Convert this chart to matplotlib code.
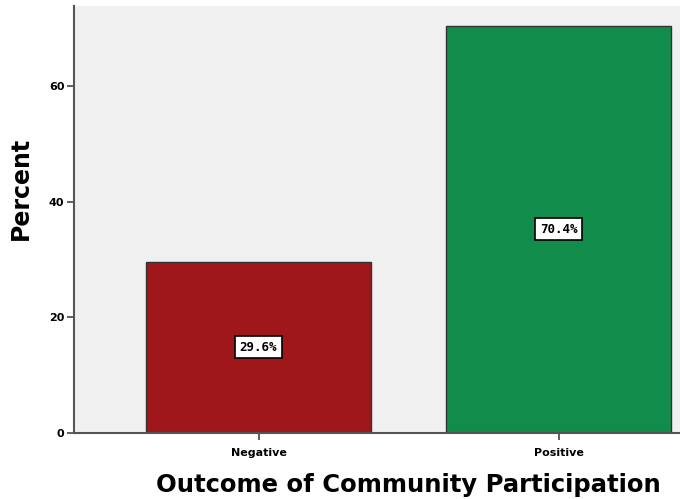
import matplotlib
matplotlib.use("Agg")
import matplotlib.pyplot as plt

categories = ["Negative", "Positive"]
percents = [29.6, 70.4]
bar_colors = ["#a0171b", "#128c4a"]
yticks = [0, 20, 40, 60]

fig = plt.figure(figsize=(6.8, 4.99), dpi=100)
L, R, B, T = 74/680, 743/680, (499-433)/499, (499-6)/499
ax = fig.add_axes([L, B, R-L, T-B])
ax.set_facecolor("#f0f0f0")

x = range(len(categories))
bars = ax.bar(x, percents, width=0.75, color=bar_colors, edgecolor="#333333", linewidth=1.0, zorder=2)
for xi, p in zip(x, percents):
    ax.text(xi, p/2, f"{p:.1f}%", ha="center", va="center", fontsize=9, fontweight="bold",
            family="DejaVu Sans Mono",
            bbox=dict(boxstyle="square,pad=0.35", facecolor="white", edgecolor="black", linewidth=1.2),
            zorder=3)

ax.set_xlim(-0.615, 1.615)
ax.set_ylim(0, 73.8)
ax.set_xticks(list(x))
ax.set_xticklabels(categories, fontsize=8, fontweight="bold")
ax.set_yticks(yticks)
ax.set_yticklabels([str(v) for v in yticks], fontsize=8, fontweight="bold")
ax.tick_params(axis="both", length=5, width=1.2, color="#444444")
ax.tick_params(axis="x", pad=6)
ax.tick_params(axis="y", pad=2)
for s in ["top", "right"]:
    ax.spines[s].set_visible(False)
for s in ["left", "bottom"]:
    ax.spines[s].set_color("#555555")
    ax.spines[s].set_linewidth(1.5)

ax.set_ylabel("Percent", fontsize=17, fontweight="heavy")
ax.yaxis.set_label_coords((33-74)/(743-74), (433-188)/427)
ax.set_xlabel("Outcome of Community Participation", fontsize=17.5, fontweight="heavy")
ax.xaxis.set_label_coords(0.5, -(473-433)/427)

fig.savefig("out.png", dpi=100)
